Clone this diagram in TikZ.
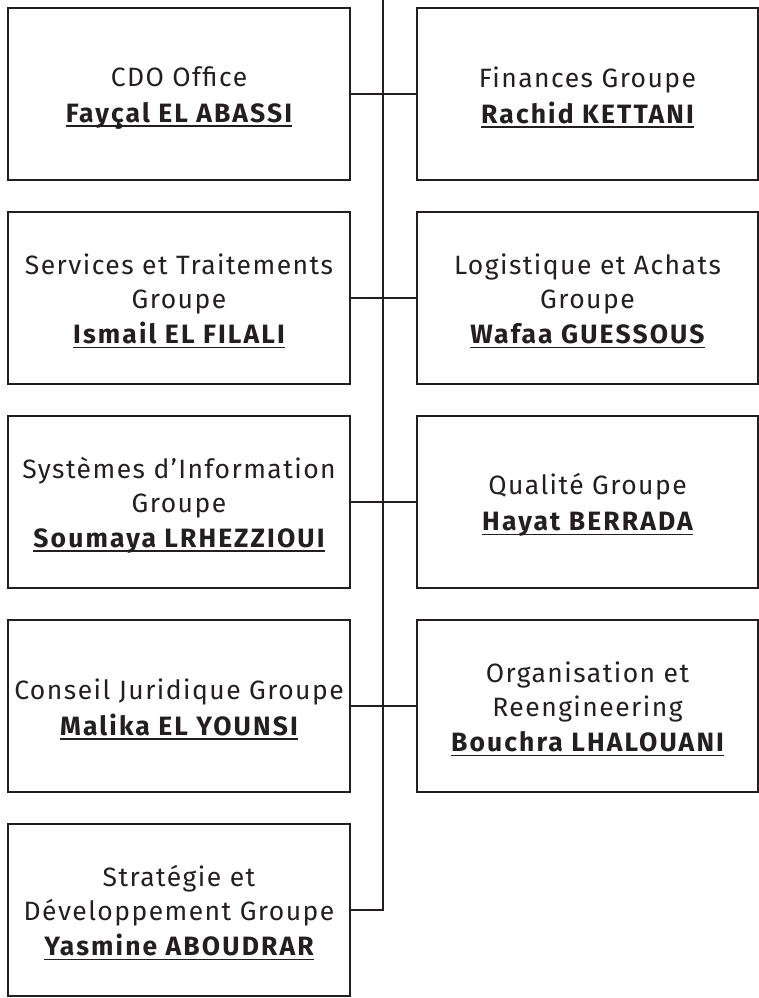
\documentclass[tikz,border=0pt]{standalone}
\usepackage{fontspec}
\setmainfont{Fira Sans}[LetterSpace=5.5, BoldFeatures={LetterSpace=8}]
\definecolor{ink}{HTML}{231F20}
\newcommand\pname[1]{\setbox0\hbox{\bfseries #1}\rlap{\color{ink}\rule[-4.8pt]{\wd0}{1.8pt}}\box0}
\newcommand\fstrut{\rule{0pt}{27pt}}
\tikzset{
  unit/.style={draw=ink, line width=2.6pt, minimum height=172pt, text=ink, align=center,
    font=\fontsize{26.5pt}{34pt}\selectfont, inner sep=0pt},
  lbox/.style={unit, minimum width=342pt},
  rbox/.style={unit, minimum width=341pt},
  link/.style={draw=ink, line width=2.4pt}
}
\begin{document}
\begin{tikzpicture}[x=1pt,y=-1pt]
\useasboundingbox (0,0) rectangle (759,998);
\node[lbox] (a1) at (179,94) {\fstrut CDO Office\\[2pt]\pname{Fayçal EL ABASSI}};
\node[rbox] (b1) at (587.5,94) {\fstrut Finances Groupe\\[2pt]\pname{Rachid KETTANI}};
\node[lbox] (a2) at (179,298) {\fstrut Services et Traitements\\Groupe\\[1pt]\pname{Ismail EL FILALI}};
\node[rbox] (b2) at (587.5,298) {\fstrut Logistique et Achats\\Groupe\\[1pt]\pname{Wafaa GUESSOUS}};
\node[lbox] (a3) at (179,502) {\fstrut Systèmes d’Information\\Groupe\\[1pt]\pname{Soumaya LRHEZZIOUI}};
\node[rbox] (b3) at (587.5,502) {\fstrut Qualité Groupe\\[2pt]\pname{Hayat BERRADA}};
\node[lbox] (a4) at (179,706) {\fstrut Conseil Juridique Groupe\\[2pt]\pname{Malika EL YOUNSI}};
\node[rbox] (b4) at (587.5,706) {\fstrut Organisation et\\Reengineering\\[1pt]\pname{Bouchra LHALOUANI}};
\node[lbox] (a5) at (179,910) {\fstrut Stratégie et\\Développement Groupe\\[1pt]\pname{Yasmine ABOUDRAR}};
\coordinate (top) at (383,0);
\coordinate (bot) at (383,910);
\draw[link] (top) -- (bot) -- (a5.east);
\draw[link] (a1.east) -- (b1.west);
\draw[link] (a2.east) -- (b2.west);
\draw[link] (a3.east) -- (b3.west);
\draw[link] (a4.east) -- (b4.west);
\end{tikzpicture}
\end{document}
